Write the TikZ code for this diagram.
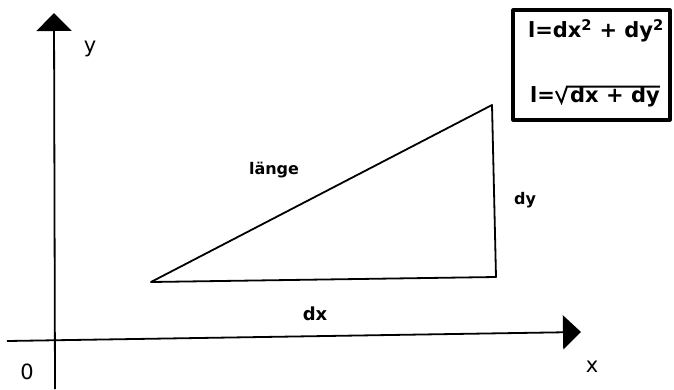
\documentclass[tikz,border=0pt]{standalone}
\usepackage{fontspec}
\setmainfont{DejaVu Sans}
\usetikzlibrary{arrows.meta}
\begin{document}
\begin{tikzpicture}[x=1pt,y=-1pt,line join=round,
  axis/.style={line width=1.8pt},
  tri/.style={line width=1.8pt},
  lbl/.style={font=\fontsize{16}{18}\selectfont\bfseries,inner sep=0pt},
  axlbl/.style={font=\fontsize{21}{23}\selectfont,inner sep=0pt},
  frm/.style={font=\fontsize{21}{23}\selectfont\bfseries,inner sep=0pt},
  radical/.style={line width=2pt,line join=miter},
  formbox/.style={draw,line width=3.2pt,minimum width=157pt,minimum height=110pt,inner sep=0pt}]
\useasboundingbox (0,0) rectangle (674,389);
% axes
\coordinate (xs) at (7,341);
\coordinate (xe) at (581,332);
\coordinate (ys) at (55,389);
\coordinate (ye) at (54,13);
\draw[axis,-{Triangle[length=18pt,width=34pt]}] (xs) -- (xe);
\draw[axis,-{Triangle[length=18pt,width=35pt]}] (ys) -- (ye);
% triangle
\coordinate (A) at (151,282);
\coordinate (B) at (496,277);
\coordinate (C) at (492,105);
\draw[tri] (A) -- (B) -- (C) -- cycle;
% labels
\node[axlbl] (ylab) at (90,49) {y};
\node[axlbl] (xlab) at (592,367) {x};
\node[axlbl] (olab) at (27,372) {0};
\node[lbl,font=\fontsize{18}{20}\selectfont\bfseries] (dxlab) at (315,314) {dx};
\node[lbl] (dylab) at (525,200) {dy};
\node[lbl] (laenge) at (274,170) {länge};
% formula box
\node[formbox] (box) at (591.5,65) {};
\node[frm] (f1) at (596,31) {l=dx\textsuperscript{2} + dy\textsuperscript{2}};
\node[frm,anchor=base west] (f2a) at (530,102) {l=};
\node[frm,anchor=base west] (f2b) at (570,102) {dx + dy};
\draw[radical] (556,91) -- (561.5,102.5) -- (567,86.5) -- (f2b.base east |- 0,86.5);
\end{tikzpicture}
\end{document}
